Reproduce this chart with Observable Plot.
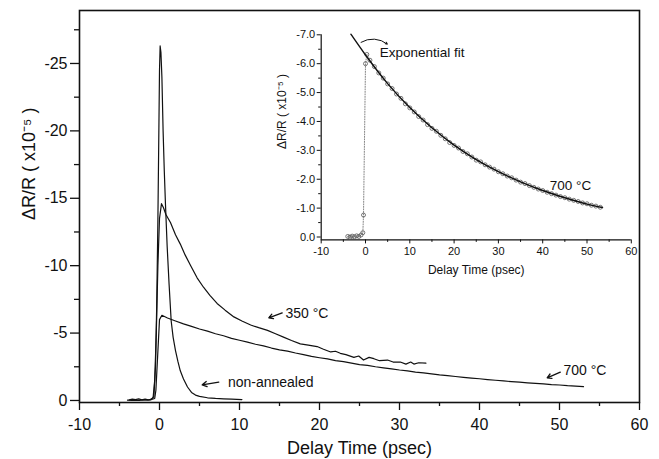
<!DOCTYPE html>
<html><head><meta charset="utf-8">
<script src="https://cdn.jsdelivr.net/npm/d3@7"></script>
<script src="https://cdn.jsdelivr.net/npm/@observablehq/plot@0.6"></script>
<style>
body{margin:0;background:#fff;}
#chart{position:relative;width:659px;height:459px;}
#chart svg{position:absolute;}
</style></head><body><div id="chart"></div>
<script>
// ---------- main panel data ----------
const tNA = [-3.8,-3.4,-3.0,-2.6,-2.2,-1.8,-1.4,-1.0,-0.7,-0.5,-0.35,-0.2,-0.08,0.0,0.08,0.18,0.3,0.45,0.6,0.75,0.96,1.2,1.46,1.7,2.0,2.3,2.6,3.0,3.5,4.0,4.5,5.0,6.0,7.0,8.0,9.0,10.3];
const rNA = [-0.05,-0.1,-0.06,-0.12,-0.05,-0.1,-0.04,-0.08,-0.3,-2.5,-7,-13.4,-20,-24.5,-26.3,-25.8,-24,-20,-17,-14.5,-11.4,-8.6,-5.9,-4.7,-3.7,-2.9,-2.2,-1.6,-1.0,-0.6,-0.4,-0.3,-0.2,-0.15,-0.12,-0.1,-0.07];

const t350 = [-1.2,-0.8,-0.6,-0.4,-0.2,0.0,0.25,0.5,0.8,1.37,2.0,2.6,3.2,3.9,4.7,5.5,6.3,7.2,8.2,9.3,10.3,11.4,12.4,13.5,14.5,15.5,16.5,17.6,18.6,19.7,20.5,21.4,22.0,22.6,23.3,24.3,24.9,25.5,26.2,26.8,27.5,28.5,29.2,30.1,30.8,31.4,31.8,32.4,33.3];
const r350 = [-0.05,-0.2,-1.5,-5,-10,-13.5,-14.6,-14.3,-13.8,-13.2,-12.3,-11.6,-10.8,-10.0,-9.1,-8.4,-7.8,-7.2,-6.7,-6.2,-5.9,-5.6,-5.4,-5.2,-4.95,-4.7,-4.45,-4.2,-4.1,-4.0,-3.8,-3.6,-3.65,-3.5,-3.4,-3.2,-3.3,-3.0,-3.2,-3.1,-2.95,-3.0,-2.85,-2.85,-2.7,-2.85,-2.7,-2.8,-2.77];

const t700 = [-4,-3.5,-3,-2.5,-2,-1.5,-1,-0.6,-0.45,0,0.3,1,2,3,4,5,6,7,8,9,10,11,12,13,14,15,16,17,18,19,20,21,22,23,24,25,26,27,28,29,30,31,32,33,34,35,36,37,38,39,40,41,42,43,44,45,46,47,48,49,50,51,52,53];
const r700 = [-0.02,0.0,-0.03,-0.01,-0.04,-0.02,-0.07,-0.15,-0.76,-6.0,-6.32,-6.12,-5.90,-5.68,-5.50,-5.30,-5.14,-4.95,-4.80,-4.61,-4.47,-4.33,-4.17,-4.05,-3.89,-3.76,-3.66,-3.52,-3.40,-3.27,-3.17,-3.08,-2.96,-2.88,-2.77,-2.66,-2.60,-2.50,-2.42,-2.35,-2.26,-2.19,-2.11,-2.05,-1.97,-1.90,-1.85,-1.78,-1.72,-1.66,-1.61,-1.55,-1.50,-1.45,-1.40,-1.36,-1.31,-1.27,-1.23,-1.18,-1.15,-1.10,-1.07,-1.03];

// exponential fit curve (inset)
const tFit = [-3.3,0,5,10,15,20,25,30,35,40,45,50,53.5];
const rFit = [-7.02,-6.3,-5.31,-4.48,-3.78,-3.18,-2.68,-2.26,-1.91,-1.61,-1.36,-1.14,-1.02];

// axes
const xDomain = [-10, 60];
const yDomain = [0.15, -28.93];
const xMajor = [-10,0,10,20,30,40,50,60];
const xMinor = [-5,5,15,25,35,45,55];
const yMajor = [0,-5,-10,-15,-20,-25];
const yMinor = [-2.5,-7.5,-12.5,-17.5,-22.5,-27.5];

const insetXDomain = [-10, 60];
const insetYDomain = [0.1, -7.0];
const insetXMajor = [-10,0,10,20,30,40,50,60];
const insetXMinor = [-5,5,15,25,35,45,55];
const insetYMajor = [0,-1,-2,-3,-4,-5,-6,-7];
const insetYMinor = [-0.5,-1.5,-2.5,-3.5,-4.5,-5.5,-6.5];

// text
const xTitle = "Delay Time (psec)";
const yTitle = "ΔR/R ( x10⁻⁵ )";
const labelText = ["350 °C", "700 °C", "non-annealed"];
const labelX = [15.75, 50.5, 8.55];
const labelY = [-6.43, -2.23, -1.36];
const arrowX1 = [15.34, 50.1, 7.41];
const arrowY1 = [-6.5, -2.1, -1.36];
const arrowX2 = [13.66, 48.46, 5.34];
const arrowY2 = [-6.13, -1.68, -1.16];

const insetLabelText = ["Exponential fit", "700 °C"];
const insetLabelX = [3.2, 41.6];
const insetLabelY = [-6.37, -1.78];
const insetArrowX1 = [-1.0];
const insetArrowY1 = [-6.74];
const insetArrowX2 = [4.9];
const insetArrowY2 = [-6.68];

const font = "'Liberation Sans', Arial, Helvetica, sans-serif";
const ink = "#111";
const zip = (a, b) => a.map((v, i) => [v, b[i]]);

const main = Plot.plot({
  width: 659, height: 459,
  marginLeft: 79, marginRight: 20, marginTop: 10, marginBottom: 57,
  style: {fontFamily: font, color: ink, background: "transparent"},
  x: {domain: xDomain},
  y: {domain: yDomain},
  marks: [
    Plot.axisX(xMajor, {tickSize: 8, tickPadding: 8.5, fontSize: 16, tickFormat: d => String(d), label: null, strokeWidth: 1.3}),
    Plot.axisX(xMinor, {tickSize: 4, tickFormat: () => "", label: null, strokeWidth: 1.3}),
    Plot.axisY(yMajor, {tickSize: 9, tickPadding: 3, fontSize: 16, tickFormat: d => String(d), label: null, strokeWidth: 1.3}),
    Plot.axisY(yMinor, {tickSize: 5, tickFormat: () => "", label: null, strokeWidth: 1.3}),
    Plot.line(zip(tNA, rNA), {x: d => d[0], y: d => d[1], stroke: ink, strokeWidth: 1.2}),
    Plot.line(zip(t350, r350), {x: d => d[0], y: d => d[1], stroke: ink, strokeWidth: 1.2}),
    Plot.line(zip(t700, r700), {x: d => d[0], y: d => d[1], stroke: ink, strokeWidth: 1.2}),
    Plot.arrow(arrowX1, {x1: arrowX1, y1: arrowY1, x2: arrowX2, y2: arrowY2, stroke: ink, strokeWidth: 1.3, headLength: 6}),
    Plot.text(labelText, {x: labelX, y: labelY, text: d => d, textAnchor: "start", fontSize: 14, fill: ink}),
    Plot.text([xTitle], {frameAnchor: "bottom", dy: 45.5, lineAnchor: "middle", fontSize: 18, fill: ink}),
    Plot.text([yTitle], {frameAnchor: "left", dx: -50, dy: 13.5, rotate: -90, lineAnchor: "middle", fontSize: 18, fill: ink}),
    Plot.frame({stroke: ink, strokeWidth: 1.6})
  ]
});
main.style.left = "0px"; main.style.top = "0px";

const inset = Plot.plot({
  width: 380, height: 265,
  marginLeft: 60.7, marginRight: 9.2, marginTop: 14.3, marginBottom: 45.6,
  style: {fontFamily: font, color: ink, background: "transparent"},
  x: {domain: insetXDomain},
  y: {domain: insetYDomain},
  marks: [
    Plot.axisX(insetXMajor, {tickSize: 4, tickPadding: 3, fontSize: 11, tickFormat: d => String(d), label: null}),
    Plot.axisX(insetXMinor, {tickSize: 2.5, tickFormat: () => "", label: null}),
    Plot.axisY(insetYMajor, {tickSize: 4, tickPadding: 2, fontSize: 11, tickFormat: d => d.toFixed(1), label: null}),
    Plot.axisY(insetYMinor, {tickSize: 2.5, tickFormat: () => "", label: null}),
    Plot.ruleX([insetXDomain[0]], {stroke: ink, strokeWidth: 1.2}),
    Plot.ruleY([insetYDomain[0]], {stroke: ink, strokeWidth: 1.2}),
    Plot.line(zip(t700, r700), {x: d => d[0], y: d => d[1], stroke: "#666", strokeWidth: 0.8, strokeDasharray: "1,1.5"}),
    Plot.dot(zip(t700, r700), {x: d => d[0], y: d => d[1], r: 2, stroke: "#555", strokeWidth: 0.8, fill: "none"}),
    Plot.line(zip(tFit, rFit), {x: d => d[0], y: d => d[1], stroke: ink, strokeWidth: 1.4, curve: "monotone-x"}),
    Plot.arrow(insetArrowX1, {x1: insetArrowX1, y1: insetArrowY1, x2: insetArrowX2, y2: insetArrowY2, bend: 35, stroke: ink, strokeWidth: 1, headLength: 3}),
    Plot.text(insetLabelText, {x: insetLabelX, y: insetLabelY, text: d => d, textAnchor: "start", fontSize: 13.5, fill: ink}),
    Plot.text([xTitle], {frameAnchor: "bottom", dy: 30.6, lineAnchor: "middle", fontSize: 12, fill: ink}),
    Plot.text([yTitle], {frameAnchor: "left", dx: -38.7, dy: 11.65, rotate: -90, lineAnchor: "middle", fontSize: 12, fill: ink})
  ]
});
inset.style.left = "260px"; inset.style.top = "20px";

const el = document.getElementById("chart");
el.appendChild(main);
el.appendChild(inset);
</script></body></html>
